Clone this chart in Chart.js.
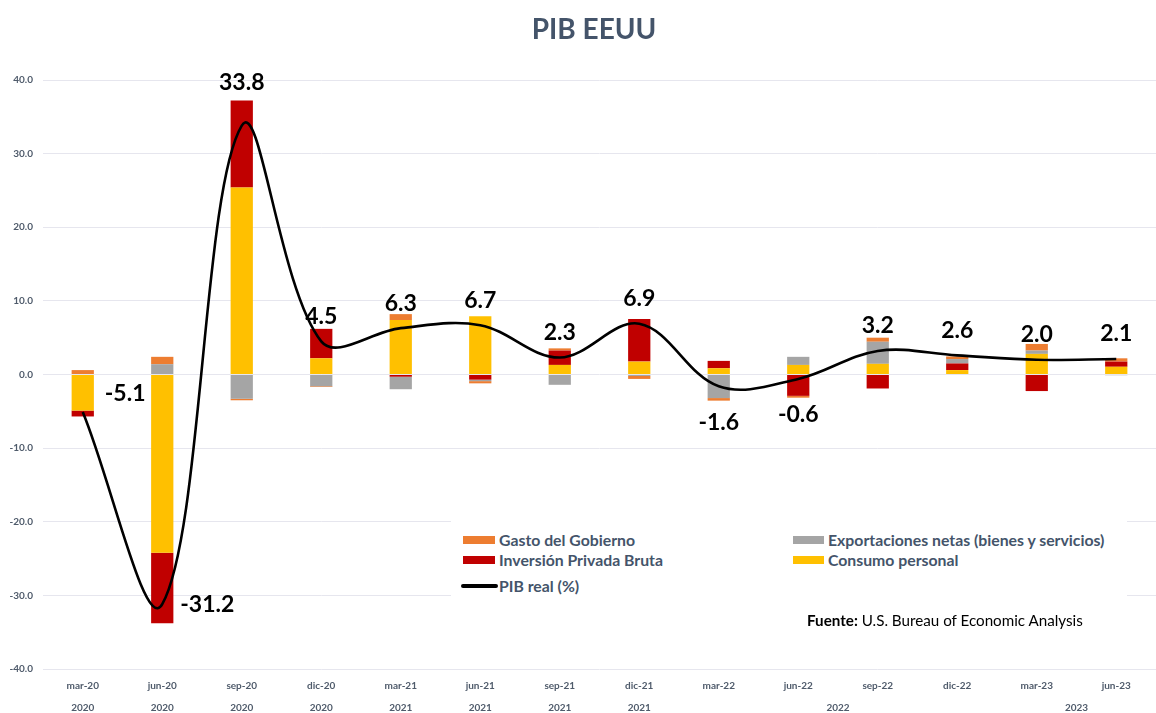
<!DOCTYPE html>
<html>
<head>
<meta charset="utf-8">
<script src="https://cdn.jsdelivr.net/npm/chart.js@4.4.0/dist/chart.umd.min.js"></script>
<style>
  html, body { margin:0; padding:0; background:#fff; }
  #wrap { position:relative; width:1156px; height:713px; overflow:hidden; font-family: Lato, "Noto Sans", sans-serif; }
  #c { position:absolute; left:0; top:0; }
  #title { position:absolute; left:0; width:1188px; top:10px; text-align:center; font:bold 28px Lato, sans-serif; color:#44546A; line-height:36px; }
  #legend { position:absolute; left:451px; top:518px; width:676px; height:80px; background:#fff; }
  .li { position:absolute; font:bold 15.8px Lato, sans-serif; color:#44546A; line-height:18px; white-space:nowrap; }
  .sw { position:absolute; height:8px; }
  #src { position:absolute; left:807px; top:610px; font:15.2px Lato, sans-serif; color:#000; white-space:nowrap; line-height:20px; }
</style>
</head>
<body>
<div id="wrap">
  <canvas id="c" width="1156" height="713"></canvas>
  <div id="title">PIB EEUU</div>
  <div id="legend"></div>
  <div id="src"><b>Fuente:</b> U.S. Bureau of Economic Analysis</div>
</div>
<script>
// ---- Data ----
const quarters = ['mar-20','jun-20','sep-20','dic-20','mar-21','jun-21','sep-21','dic-21','mar-22','jun-22','sep-22','dic-22','mar-23','jun-23'];
const years    = ['2020','2020','2020','2020','2021','2021','2021','2021','2022','2022','2022','2022','2023','2023'];
const groupedYears = ['2022','2023'];   // shown once, centred under their quarters

const consumo       = [-4.9, -24.2, 25.4, 2.2, 7.4, 7.9, 1.3, 1.75, 0.85, 1.3, 1.45, 0.6, 2.8, 1.05];
const inversion     = [-0.8, -9.6, 11.8, 4.0, -0.3, -0.7, 1.95, 5.8, 1.0, -2.9, -1.9, 0.9, -2.25, 0.7];
const exportaciones = [0.0, 1.4, -3.3, -1.6, -1.7, -0.2, -1.4, -0.2, -3.2, 1.1, 3.0, 0.6, 0.45, -0.1];
const gobierno      = [0.6, 1.0, -0.2, -0.1, 0.8, -0.3, 0.3, -0.4, -0.35, -0.25, 0.55, 0.35, 0.9, 0.45];
const pibReal       = [-5.1, -31.2, 33.8, 4.5, 6.3, 6.7, 2.3, 6.9, -1.6, -0.6, 3.2, 2.6, 2.0, 2.1];

const yTicks = [-40, -30, -20, -10, 0, 10, 20, 30, 40];

// label placement per point
const labelModes = ['rightUp','right','aboveBar','above','above','above','above','above','below','below','above','above','above','above'];

// ---- Styles ----
const COLORS = { consumo:'#FFC000', inversion:'#C00000', export:'#A5A5A5', gob:'#ED7D31', line:'#000000' };
const TICK_COLOR = '#4F5B6B';
const GRID_COLOR = '#E6E6EE';

// year-axis ticks (computed from years array)
const yearTickVals = [], yearTickLabels = [];
(function(){
  const seen = {};
  years.forEach((y, i) => {
    if (groupedYears.includes(y)) {
      if (!seen[y]) { seen[y] = []; }
      seen[y].push(i);
    } else { yearTickVals.push(i); yearTickLabels.push(y); }
  });
  Object.keys(seen).forEach(y => {
    const idx = seen[y];
    yearTickVals.push((idx[0] + idx[idx.length-1]) / 2);
    yearTickLabels.push(y);
  });
})();

const components = [consumo, inversion, exportaciones, gobierno];

const labelPlugin = {
  id: 'gdpLabels',
  afterDatasetsDraw(chart) {
    const ctx = chart.ctx;
    const meta = chart.getDatasetMeta(4);
    const ys = chart.scales.y;
    ctx.save();
    ctx.font = 'bold 23px Lato, sans-serif';
    ctx.fillStyle = '#000';
    ctx.textBaseline = 'middle';
    pibReal.forEach((v, i) => {
      const p = meta.data[i];
      let tx = p.x, ty = p.y, align = 'center';
      const mode = labelModes[i];
      if (mode === 'above') ty = p.y - 25;
      else if (mode === 'aboveBar') {
        const top = components.reduce((s, a) => s + Math.max(0, a[i]), 0);
        ty = ys.getPixelForValue(top) - 18;
      } else if (mode === 'below') ty = p.y + 36;
      else if (mode === 'right') { tx = p.x + 18; align = 'left'; }
      else if (mode === 'rightUp') { tx = p.x + 22; ty = p.y - 18; align = 'left'; }
      ctx.textAlign = align;
      ctx.fillText(v.toFixed(1), tx, ty);
    });
    ctx.restore();
  }
};

const barCommon = { stack: 'comp', order: 1, barPercentage: 0.28, categoryPercentage: 1.0, borderWidth: 0 };

new Chart(document.getElementById('c'), {
  type: 'bar',
  data: {
    labels: quarters,
    datasets: [
      Object.assign({ label: 'Consumo personal', data: consumo, backgroundColor: COLORS.consumo }, barCommon),
      Object.assign({ label: 'Inversión Privada Bruta', data: inversion, backgroundColor: COLORS.inversion }, barCommon),
      Object.assign({ label: 'Exportaciones netas (bienes y servicios)', data: exportaciones, backgroundColor: COLORS.export }, barCommon),
      Object.assign({ label: 'Gasto del Gobierno', data: gobierno, backgroundColor: COLORS.gob }, barCommon),
      { type: 'line', label: 'PIB real (%)', data: pibReal, stack: 'gdp', order: 0,
        borderColor: COLORS.line, borderWidth: 2.6, pointRadius: 0, tension: 0.36, fill: false }
    ]
  },
  options: {
    responsive: false,
    animation: false,
    layout: { padding: { top: 80, right: 0, bottom: 0, left: 0 } },
    plugins: { legend: { display: false }, title: { display: false }, tooltip: { enabled: false } },
    scales: {
      x: {
        stacked: true,
        grid: { display: false, drawTicks: false },
        border: { display: false },
        ticks: { color: TICK_COLOR, font: { family: 'Lato', size: 10, weight: 'bold' }, padding: 11, autoSkip: false, maxRotation: 0 },
        afterFit(s) { s.height = 24; }
      },
      x2: {
        type: 'linear', position: 'bottom', min: -0.5, max: 13.5, offset: false,
        grid: { display: false, drawTicks: false, offset: false },
        border: { display: false },
        afterBuildTicks(s) { s.ticks = yearTickVals.map(v => ({ value: v })); },
        ticks: {
          color: TICK_COLOR, font: { family: 'Lato', size: 10, weight: 'bold' }, padding: 9, autoSkip: false, maxRotation: 0,
          callback(value, index) { return yearTickLabels[index]; }
        },
        afterFit(s) { s.height = 20; }
      },
      y: {
        stacked: true,
        min: -40, max: 40,
        afterBuildTicks(s) { s.ticks = yTicks.map(v => ({ value: v })); },
        grid: { color: GRID_COLOR, lineWidth: 1, drawTicks: false },
        border: { display: false },
        ticks: { color: TICK_COLOR, font: { family: 'Lato', size: 10, weight: 'bold' }, padding: 10,
                 callback(v) { return Number(v).toFixed(1); } },
        afterFit(s) { s.width = 43; }
      }
    }
  },
  plugins: [labelPlugin]
});

// ---- HTML legend ----
const legendItems = [
  { text: 'Gasto del Gobierno', color: COLORS.gob, y: 22, sx: 12, sw: 32, type: 'box' },
  { text: 'Exportaciones netas (bienes y servicios)', color: COLORS.export, y: 22, sx: 342, sw: 31, type: 'box' },
  { text: 'Inversión Privada Bruta', color: COLORS.inversion, y: 42, sx: 12, sw: 32, type: 'box' },
  { text: 'Consumo personal', color: COLORS.consumo, y: 42, sx: 342, sw: 31, type: 'box' },
  { text: 'PIB real (%)', color: COLORS.line, y: 68, sx: 10, sw: 37, type: 'line' }
];
const lg = document.getElementById('legend');
legendItems.forEach(it => {
  const sw = document.createElement('div');
  sw.className = 'sw';
  sw.style.left = it.sx + 'px';
  sw.style.width = it.sw + 'px';
  sw.style.background = it.color;
  if (it.type === 'line') { sw.style.height = '4px'; sw.style.top = (it.y - 2) + 'px'; sw.style.borderRadius = '2px'; }
  else { sw.style.top = (it.y - 4) + 'px'; }
  lg.appendChild(sw);
  const t = document.createElement('div');
  t.className = 'li';
  t.textContent = it.text;
  t.style.left = (it.type === 'line' ? it.sx + it.sw + 1 : it.sx + it.sw + 4) + 'px';
  t.style.top = (it.y - 9) + 'px';
  lg.appendChild(t);
});
</script>
</body>
</html>
